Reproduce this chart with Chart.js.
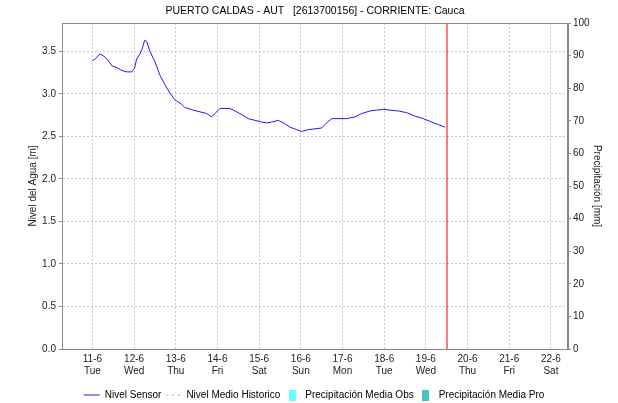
<!DOCTYPE html>
<html>
<head>
<meta charset="utf-8">
<title>PUERTO CALDAS - AUT</title>
<script src="https://cdn.jsdelivr.net/npm/chart.js@4"></script>
<style>
  body { margin: 0; background: #fff; }
</style>
</head>
<body>
<canvas id="grafico" width="618" height="403"></canvas>
<script>
// Datos (día de junio con fracción, nivel en metros)
const dias = [11.00, 11.06, 11.18, 11.26, 11.37, 11.47, 11.59, 11.69, 11.82, 11.94,
  12.01, 12.06, 12.14, 12.20, 12.25, 12.30, 12.38, 12.50, 12.62, 12.74, 12.86, 12.98,
  13.14, 13.22, 13.42, 13.58, 13.74, 13.86, 13.96, 14.06, 14.30, 14.50, 14.74, 14.90,
  15.06, 15.18, 15.30, 15.46, 15.58, 15.74, 15.90, 16.02, 16.18, 16.34, 16.50, 16.62,
  16.74, 16.94, 17.10, 17.30, 17.46, 17.66, 17.82, 17.98, 18.14, 18.34, 18.54, 18.74,
  18.94, 19.14, 19.30, 19.46];
const nivelSensor = [3.39, 3.41, 3.47, 3.45, 3.40, 3.33, 3.31, 3.28, 3.26, 3.26,
  3.30, 3.41, 3.47, 3.54, 3.63, 3.62, 3.50, 3.38, 3.22, 3.11, 3.01, 2.93,
  2.88, 2.84, 2.81, 2.79, 2.77, 2.73, 2.78, 2.83, 2.83, 2.78, 2.71, 2.69,
  2.67, 2.66, 2.67, 2.69, 2.66, 2.61, 2.58, 2.56, 2.58, 2.59, 2.60, 2.66,
  2.71, 2.71, 2.71, 2.73, 2.77, 2.80, 2.81, 2.82, 2.81, 2.80, 2.78, 2.74,
  2.71, 2.67, 2.64, 2.61];
const nivelMedio = [];
const precipObs = [];
const precipPro = [];

// Etiquetas del eje X
const diasTick = [11, 12, 13, 14, 15, 16, 17, 18, 19, 20, 21, 22];
const fechas = ["11-6", "12-6", "13-6", "14-6", "15-6", "16-6", "17-6", "18-6", "19-6", "20-6", "21-6", "22-6"];
const nombresDia = ["Tue", "Wed", "Thu", "Fri", "Sat", "Sun", "Mon", "Tue", "Wed", "Thu", "Fri", "Sat"];
const momentoActual = 19.5;

const titulo = "PUERTO CALDAS - AUT   [2613700156] - CORRIENTE: Cauca";
const fuente = "'Liberation Sans', Arial, sans-serif";

// Cuadritos de color para la leyenda de precipitación
function cuadro(color) {
  const c = document.createElement("canvas");
  c.width = 7;
  c.height = 11;
  const g = c.getContext("2d");
  g.fillStyle = color;
  g.fillRect(0, 0, 7, 11);
  return c;
}

// Título, marco y línea roja del momento actual
const extras = {
  id: "extras",
  afterDraw(chart) {
    const { ctx, chartArea: a, scales } = chart;
    ctx.save();
    ctx.setLineDash([]);
    ctx.strokeStyle = "#888888";
    ctx.lineWidth = 1;
    ctx.strokeRect(a.left + 0.5, a.top + 0.5, a.right - a.left - 1, a.bottom - a.top);
    const xr = Math.round(scales.x.getPixelForValue(momentoActual));
    ctx.strokeStyle = "#ff2020";
    ctx.lineWidth = 1.2;
    ctx.beginPath();
    ctx.moveTo(xr, a.top + 1);
    ctx.lineTo(xr, a.bottom);
    ctx.stroke();
    ctx.fillStyle = "#000";
    ctx.font = "10.5px " + fuente;
    ctx.textAlign = "center";
    ctx.textBaseline = "middle";
    ctx.fillText(titulo, (a.left + a.right) / 2, 11);
    ctx.restore();
  }
};

new Chart(document.getElementById("grafico"), {
  data: {
    datasets: [
      {
        type: "line",
        label: "Nivel Sensor",
        data: dias.map((d, i) => ({ x: d, y: nivelSensor[i] })),
        borderColor: "#1a1aff",
        borderWidth: 1,
        pointRadius: 0,
        tension: 0,
        yAxisID: "y"
      },
      {
        type: "line",
        label: "Nivel Medio Historico",
        data: nivelMedio,
        borderColor: "#c0c0c0",
        borderDash: [3, 3],
        borderWidth: 1,
        pointRadius: 0,
        yAxisID: "y"
      },
      {
        type: "bar",
        label: "Precipitación Media Obs",
        data: precipObs,
        backgroundColor: "#66ffff",
        yAxisID: "y1"
      },
      {
        type: "bar",
        label: "Precipitación Media Pro",
        data: precipPro,
        backgroundColor: "#44c4c4",
        yAxisID: "y1"
      }
    ]
  },
  options: {
    responsive: false,
    animation: false,
    layout: { padding: { top: 23, left: 10, right: 0, bottom: -7 } },
    plugins: {
      title: { display: false },
      tooltip: { enabled: false },
      legend: {
        position: "bottom",
        labels: {
          usePointStyle: true,
          pointStyleWidth: 16,
          boxHeight: 11,
          padding: 4,
          color: "#000",
          font: { family: fuente, size: 10 },
          generateLabels(chart) {
            return chart.data.datasets.map((ds, i) => ({
              text: ds.label,
              datasetIndex: i,
              fillStyle: ds.backgroundColor || ds.borderColor,
              strokeStyle: ds.borderColor,
              lineWidth: 1,
              lineDash: ds.borderDash || [],
              pointStyle: ds.type === "bar" ? cuadro(ds.backgroundColor) : "line",
              hidden: false
            }));
          }
        }
      }
    },
    scales: {
      x: {
        type: "linear",
        offset: false,
        min: 10.27,
        max: 22.41,
        afterFit: (s) => { s.height = 37; },
        grid: { color: "#c8c8c8", drawTicks: false, offset: false },
        border: { color: "#888", dash: [2, 2] },
        ticks: {
          stepSize: 1,
          includeBounds: false,
          autoSkip: false,
          maxRotation: 0,
          padding: 4,
          color: "#222",
          font: { family: fuente, size: 10 },
          callback: (v) => {
            const i = diasTick.indexOf(v);
            return i < 0 ? "" : [fechas[i], nombresDia[i]];
          }
        }
      },
      y: {
        position: "left",
        min: 0,
        max: 3.835,
        afterFit: (s) => { s.width = 52; },
        grid: { color: "#c8c8c8", tickLength: 3, tickColor: "#888", tickBorderDash: [] },
        border: { color: "#888", dash: [2, 2] },
        ticks: {
          stepSize: 0.5,
          includeBounds: false,
          padding: 3,
          color: "#222",
          font: { family: fuente, size: 10 },
          callback: (v) => v.toFixed(1)
        },
        title: {
          display: true,
          text: "Nivel del Agua [m]",
          color: "#222",
          font: { family: fuente, size: 10 },
          padding: { top: 17, bottom: 0 }
        }
      },
      y1: {
        position: "right",
        min: 0,
        max: 100,
        afterFit: (s) => { s.width = 50; },
        grid: { drawOnChartArea: false, tickLength: 3, tickColor: "#888" },
        border: { color: "#888" },
        ticks: {
          stepSize: 10,
          padding: 2,
          color: "#222",
          font: { family: fuente, size: 10 }
        },
        title: {
          display: true,
          text: "Precipitación [mm]",
          color: "#222",
          font: { family: fuente, size: 10 },
          padding: { top: 15, bottom: 0 }
        }
      }
    }
  },
  plugins: [extras]
});
</script>
</body>
</html>
